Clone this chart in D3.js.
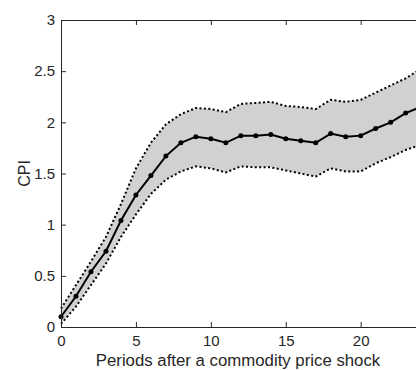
<!DOCTYPE html>
<html>
<head>
<meta charset="utf-8">
<script src="https://cdn.jsdelivr.net/npm/d3@7"></script>
<style>
  html, body { margin: 0; padding: 0; background: #fff; }
  svg { display: block; font-family: "Liberation Sans", Arial, Helvetica, sans-serif; }
</style>
</head>
<body>
<div id="chart"></div>
<script>
// impulse response of CPI, with error band
const periods = [0, 1, 2, 3, 4, 5, 6, 7, 8, 9, 10, 11, 12, 13, 14, 15, 16, 17, 18, 19, 20, 21, 22, 23, 24];
const cpiMean = [0.10, 0.30, 0.54, 0.74, 1.04, 1.29, 1.48, 1.67, 1.80, 1.86, 1.84, 1.80, 1.87, 1.87, 1.88, 1.84, 1.82, 1.80, 1.89, 1.86, 1.87, 1.94, 2.00, 2.09, 2.15];
const cpiUpper = [0.18, 0.41, 0.64, 0.88, 1.20, 1.55, 1.80, 1.98, 2.08, 2.14, 2.13, 2.10, 2.18, 2.19, 2.20, 2.16, 2.15, 2.13, 2.22, 2.20, 2.22, 2.29, 2.36, 2.43, 2.52];
const cpiLower = [0.03, 0.20, 0.41, 0.62, 0.88, 1.10, 1.30, 1.44, 1.52, 1.57, 1.55, 1.51, 1.57, 1.56, 1.56, 1.53, 1.50, 1.47, 1.55, 1.52, 1.52, 1.60, 1.66, 1.73, 1.78];
const xTicks = [0, 5, 10, 15, 20];
const yTicks = [0, 0.5, 1, 1.5, 2, 2.5, 3];

const W = 416, H = 370;
const margin = { left: 61, top: 20, bottom: 327 };
const axisColor = "#262626";

const svg = d3.select("#chart").append("svg")
  .attr("width", W)
  .attr("height", H);

const x = d3.scaleLinear().domain([0, 25]).range([margin.left, margin.left + 25 * 14.985]);
const y = d3.scaleLinear().domain([0, 3]).range([margin.bottom, margin.top]);

const data = periods.map((p, i) => ({ p, m: cpiMean[i], hi: cpiUpper[i], lo: cpiLower[i] }));

// band
svg.append("path")
  .datum(data)
  .attr("fill", "#d1d1d1")
  .attr("d", d3.area().x(d => x(d.p)).y0(d => y(d.lo)).y1(d => y(d.hi)));

// dotted edges
[d => d.hi, d => d.lo].forEach(acc => {
  svg.append("path")
    .datum(data)
    .attr("fill", "none")
    .attr("stroke", "#000")
    .attr("stroke-width", 2)
    .attr("stroke-dasharray", "2,2.4")
    .attr("d", d3.line().x(d => x(d.p)).y(d => y(acc(d))));
});

// mean line
svg.append("path")
  .datum(data)
  .attr("fill", "none")
  .attr("stroke", "#000")
  .attr("stroke-width", 2)
  .attr("d", d3.line().x(d => x(d.p)).y(d => y(d.m)));

svg.selectAll(".dot")
  .data(data)
  .enter().append("circle")
  .attr("cx", d => x(d.p))
  .attr("cy", d => y(d.m))
  .attr("r", 2.5)
  .attr("fill", "#000");

// axes (ticks pointing inward, like the original box)
const xAxis = svg.append("g")
  .attr("transform", `translate(0,${margin.bottom})`)
  .call(d3.axisBottom(x).tickValues(xTicks).tickSizeInner(-5).tickSizeOuter(0).tickPadding(8));

const xTop = svg.append("g")
  .attr("transform", `translate(0,${margin.top})`)
  .call(d3.axisTop(x).tickValues(xTicks).tickSizeInner(-5).tickSizeOuter(0).tickFormat(""));

const yAxis = svg.append("g")
  .attr("transform", `translate(${margin.left},0)`)
  .call(d3.axisLeft(y).tickValues(yTicks).tickSizeInner(-5).tickSizeOuter(0).tickPadding(6).tickFormat(d3.format("")));

[xAxis, xTop, yAxis].forEach(g => {
  g.select(".domain").attr("stroke", axisColor).attr("stroke-width", 1);
  g.selectAll(".tick line").attr("stroke", axisColor);
  g.selectAll("text").attr("fill", axisColor).style("font-size", "15px");
});

// labels
svg.append("text")
  .attr("x", 238)
  .attr("y", 366)
  .attr("text-anchor", "middle")
  .attr("fill", axisColor)
  .style("font-size", "16.8px")
  .text("Periods after a commodity price shock");

svg.append("text")
  .attr("transform", `translate(30,${(margin.top + margin.bottom) / 2}) rotate(-90)`)
  .attr("text-anchor", "middle")
  .attr("fill", axisColor)
  .style("font-size", "16px")
  .text("CPI");
</script>
</body>
</html>
